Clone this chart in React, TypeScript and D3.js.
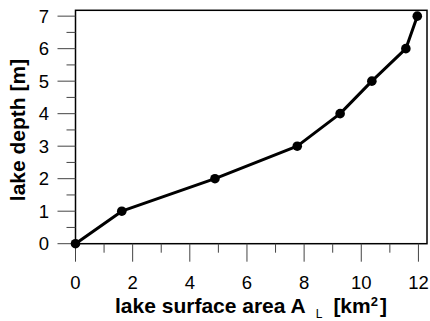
import React from "react";
import * as d3 from "d3";

const depth = [0, 1, 2, 3, 4, 5, 6, 7];
const area = [0, 1.62, 4.88, 7.76, 9.26, 10.37, 11.56, 11.96];
const xTicks = [0, 2, 4, 6, 8, 10, 12];
const xMinor = [1, 3, 5, 7, 9, 11];
const yTicks = [0, 1, 2, 3, 4, 5, 6, 7];
const yMinor = [0.5, 1.5, 2.5, 3.5, 4.5, 5.5, 6.5];

const W = 430, H = 321;
const L = 75.5, T = 10.3, R = 427, B = 243.7;

export default function App() {
  const x = d3.scaleLinear().domain([0, 12.3]).range([L, R]);
  const y = d3.scaleLinear().domain([0, 7.18]).range([B, T]);
  const pts = depth.map((d, i) => [area[i], d] as [number, number]);
  const line = d3.line<[number, number]>().x(d => x(d[0])).y(d => y(d[1]));
  const font = "'Liberation Sans', Arial, Helvetica, sans-serif";
  return (
    <svg width={W} height={H} style={{ position: "absolute", left: 0, top: 0, background: "#fff" }} fontFamily={font}>
      <rect x={0} y={0} width={W} height={H} fill="#fff" />
      {/* frame */}
      <rect x={L} y={T} width={R - L} height={B - T} fill="none" stroke="#000" strokeWidth={1.5} />
      {/* y ticks */}
      {yTicks.map(t => (
        <g key={"y" + t}>
          <line x1={L - 18} x2={L} y1={y(t)} y2={y(t)} stroke="#444" strokeWidth={1} />
          <text x={49} y={y(t)} dy="0.36em" textAnchor="end" fontSize={18.5} fill="#000">{t}</text>
        </g>
      ))}
      {yMinor.map(t => (
        <line key={"ym" + t} x1={L - 9} x2={L} y1={y(t)} y2={y(t)} stroke="#444" strokeWidth={1} />
      ))}
      {/* x ticks */}
      {xTicks.map(t => (
        <g key={"x" + t}>
          <line x1={x(t)} x2={x(t)} y1={B} y2={B + 18} stroke="#444" strokeWidth={1} />
          <text x={x(t)} y={289} textAnchor="middle" fontSize={18.5} fill="#000">{t}</text>
        </g>
      ))}
      {xMinor.map(t => (
        <line key={"xm" + t} x1={x(t)} x2={x(t)} y1={B} y2={B + 9} stroke="#444" strokeWidth={1} />
      ))}
      {/* data */}
      <path d={line(pts) || ""} fill="none" stroke="#000" strokeWidth={3} strokeLinejoin="round" />
      {pts.map((p, i) => (
        <circle key={i} cx={x(p[0])} cy={y(p[1])} r={4.8} fill="#000" />
      ))}
      {/* axis titles */}
      <text transform={`translate(25, ${(T + B) / 2 + 3}) rotate(-90)`} textAnchor="middle" fontSize={21} fontWeight="bold" fill="#000">
        lake depth [m]
      </text>
      <text x={115} y={313} fontSize={21} fontWeight="bold" fill="#000">
        lake surface area A
        <tspan dx={10} dy={5} fontSize={12} fontWeight="normal">L</tspan>
        <tspan dy={-5} fontSize={21} dx={11}>[km</tspan>
        <tspan dy={-7} fontSize={13}>2</tspan>
        <tspan dy={7} dx={2} fontSize={21}>]</tspan>
      </text>
    </svg>
  );
}
